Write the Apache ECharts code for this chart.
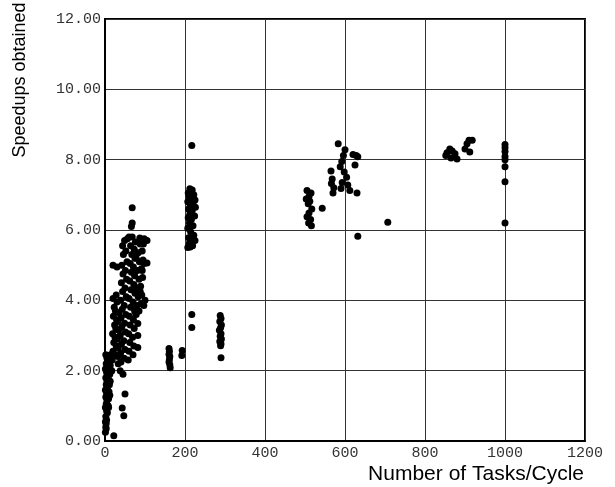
<!DOCTYPE html>
<html>
<head>
<meta charset="utf-8">
<script src="https://cdn.jsdelivr.net/npm/echarts@6/dist/echarts.min.js"></script>
<style>
  html, body { margin: 0; padding: 0; background: #fff; }
  #chart { width: 615px; height: 487px; }
</style>
</head>
<body>
<div id="chart"></div>
<script>
var chart = echarts.init(document.getElementById("chart"));

// tick labels
var xTicks = [0, 200, 400, 600, 800, 1000, 1200];
var yTicks = [0, 2, 4, 6, 8, 10, 12];

// points, [tasks per cycle, speedup]
var nearZero = [
    [1, 0.25], [2, 0.4], [1, 0.55], [3, 0.5], [2, 0.7], [4, 0.85], [1, 0.95], [3, 1.05],
    [5, 1.15], [2, 1.25], [4, 1.35], [1, 1.45], [6, 1.5], [3, 1.6], [5, 1.7], [2, 1.8],
    [7, 1.85], [4, 1.95], [1, 2.05], [6, 2.1], [3, 2.2], [8, 2.25], [5, 2.35], [2, 2.45],
    [9, 1.2], [10, 1.4], [11, 1.6], [9, 1.75], [12, 1.9], [10, 2.05], [13, 2.15], [11, 2.3],
    [14, 2.45], [8, 1.0], [12, 1.3], [6, 0.8], [3, 0.35], [7, 1.3], [13, 1.7], [15, 2.0],
    [4, 0.6], [9, 0.95], [22, 0.15]
];
var smallTasks = [
    [18, 2.3], [20, 2.55], [22, 2.8], [19, 3.05], [24, 3.3], [21, 3.55], [23, 3.8], [20, 4.05],
    [26, 2.45], [28, 2.7], [25, 2.95], [27, 3.2], [29, 3.45], [26, 3.7], [30, 3.95], [28, 4.15],
    [32, 2.4], [33, 2.65], [31, 2.9], [34, 3.15], [32, 3.4], [35, 3.65], [33, 2.2], [20, 5.0],
    [17, 2.0], [30, 4.95]
];
var midTasks = [
    [38, 2.0], [40, 2.25], [39, 2.5], [41, 2.75], [38, 3.0], [42, 3.25], [40, 3.5], [43, 3.75],
    [39, 4.0], [44, 4.25], [41, 4.5], [45, 4.75], [42, 5.0], [46, 5.3], [44, 5.55], [48, 2.35],
    [50, 2.6], [47, 2.85], [51, 3.1], [49, 3.35], [52, 3.6], [48, 3.85], [53, 4.1], [50, 4.35],
    [54, 4.6], [51, 4.85], [55, 5.1], [52, 5.4], [49, 5.7], [45, 1.9], [50, 1.34], [43, 0.94],
    [47, 0.72]
];
var upperTasks = [
    [58, 2.3], [60, 2.55], [62, 2.8], [59, 3.05], [63, 3.3], [61, 3.55], [64, 3.8], [60, 4.05],
    [65, 4.3], [62, 4.55], [66, 4.8], [63, 5.05], [67, 5.3], [64, 5.55], [68, 5.8], [66, 6.1],
    [68, 6.2], [68, 6.63], [70, 2.45], [72, 2.7], [69, 2.95], [73, 3.2], [71, 3.45], [74, 3.7],
    [70, 3.95], [75, 4.2], [72, 4.45], [74, 4.7], [71, 4.95], [75, 5.2], [73, 5.45], [56, 5.75],
    [60, 5.8]
];
var hundredTasks = [
    [82, 2.66], [82, 3.0], [82, 3.34], [78, 3.6], [80, 3.85], [83, 4.1], [79, 4.35], [85, 4.6],
    [81, 4.85], [86, 5.1], [83, 5.35], [88, 5.6], [87, 5.77], [78, 5.2], [90, 3.9], [92, 4.15],
    [89, 4.4], [94, 4.65], [91, 4.9], [95, 5.15], [93, 5.4], [96, 5.6], [98, 5.75], [100, 4.0],
    [97, 3.85], [85, 3.7], [88, 4.25], [93, 4.85], [98, 5.05], [76, 5.66], [105, 5.7], [105, 5.06]
];
var around200 = [
    [160, 2.63], [161, 2.55], [160, 2.47], [162, 2.4], [161, 2.32], [160, 2.25], [162, 2.17], [163, 2.08],
    [193, 2.57], [192, 2.43], [217, 3.6], [217, 3.23], [217, 8.4],
    [212, 7.17], [218, 7.14], [208, 7.05], [222, 7.0], [210, 6.95], [215, 6.88], [225, 6.85], [207, 6.8],
    [220, 6.75], [213, 6.7], [226, 6.65], [209, 6.6], [218, 6.55], [212, 6.45], [224, 6.4], [208, 6.35],
    [216, 6.3], [211, 6.2], [220, 6.12], [207, 6.05], [214, 5.95], [222, 5.85], [209, 5.78], [217, 5.72],
    [225, 5.7], [211, 5.62], [219, 5.55], [207, 5.5], [213, 5.52]
];
var around290 = [
    [288, 3.57], [290, 3.48], [287, 3.4], [291, 3.3], [289, 3.22], [286, 3.15], [290, 3.05], [288, 2.98],
    [291, 2.9], [287, 2.83], [290, 2.76], [289, 2.71], [290, 2.37]
];
var around600 = [
    [505, 7.12], [515, 7.05], [510, 6.95], [503, 6.88], [512, 6.82], [508, 6.75], [517, 6.6], [510, 6.48],
    [505, 6.38], [514, 6.3], [509, 6.2], [516, 6.12], [543, 6.62],
    [565, 7.68], [568, 7.45], [566, 7.32], [572, 7.2], [570, 7.05], [583, 8.45], [600, 8.28], [596, 8.12],
    [592, 7.95], [588, 7.8], [598, 7.65], [604, 7.5], [593, 7.35], [607, 7.28], [590, 7.18], [612, 7.12],
    [620, 8.15], [628, 8.12], [632, 8.08], [625, 7.85], [630, 7.05], [632, 5.82], [707, 6.22]
];
var around900 = [
    [852, 8.12], [855, 8.2], [862, 8.3], [868, 8.25], [875, 8.17], [865, 8.05], [880, 8.02], [900, 8.3],
    [905, 8.45], [910, 8.55], [918, 8.55], [912, 8.22]
];
var at1000 = [
    [1000, 8.43], [1000, 8.34], [1000, 8.23], [1000, 8.09], [1000, 8.0], [1000, 7.8], [1000, 7.37], [1000, 6.2]
];

var allPoints = [].concat(nearZero, smallTasks, midTasks, upperTasks, hundredTasks,
    around200, around290, around600, around900, at1000);

var monoFont = "'Liberation Mono', 'DejaVu Sans Mono', monospace";
var sansFont = "'Liberation Sans', Arial, sans-serif";

var option = {
    animation: false,
    backgroundColor: "#fff",
    grid: {
        left: 105,
        right: 30,
        top: 19,
        bottom: 46,
        show: true,
        borderColor: "#000",
        borderWidth: 2
    },
    xAxis: {
        type: "value",
        min: xTicks[0],
        max: xTicks[xTicks.length - 1],
        interval: xTicks[1] - xTicks[0],
        axisLine: { show: true, lineStyle: { color: "#000", width: 2 } },
        axisTick: { show: false },
        axisLabel: {
            color: "#333",
            fontFamily: monoFont,
            fontSize: 15,
            margin: 5,
            formatter: function (v) { return String(v); }
        },
        splitLine: { show: true, lineStyle: { color: "#333", width: 1 } }
    },
    yAxis: {
        type: "value",
        min: yTicks[0],
        max: yTicks[yTicks.length - 1],
        interval: yTicks[1] - yTicks[0],
        axisLine: { show: true, lineStyle: { color: "#000", width: 2 } },
        axisTick: { show: false },
        axisLabel: {
            color: "#333",
            fontFamily: monoFont,
            fontSize: 15,
            margin: 4,
            formatter: function (v) { return v.toFixed(2); }
        },
        splitLine: { show: true, lineStyle: { color: "#333", width: 1 } }
    },
    graphic: [
        {
            type: "text",
            x: 20,
            y: 80,
            rotation: Math.PI / 2,
            style: {
                text: "Speedups obtained",
                font: "18px " + sansFont,
                fill: "#000",
                align: "center",
                verticalAlign: "middle"
            }
        },
        {
            type: "text",
            x: 584,
            y: 474,
            style: {
                text: "Number of Tasks/Cycle",
                font: "21px " + sansFont,
                fill: "#000",
                align: "right",
                verticalAlign: "middle"
            }
        }
    ],
    series: [
        {
            type: "scatter",
            symbol: "circle",
            symbolSize: 7,
            itemStyle: { color: "#000", opacity: 1 },
            data: allPoints
        }
    ]
};

chart.setOption(option);
</script>
</body>
</html>
